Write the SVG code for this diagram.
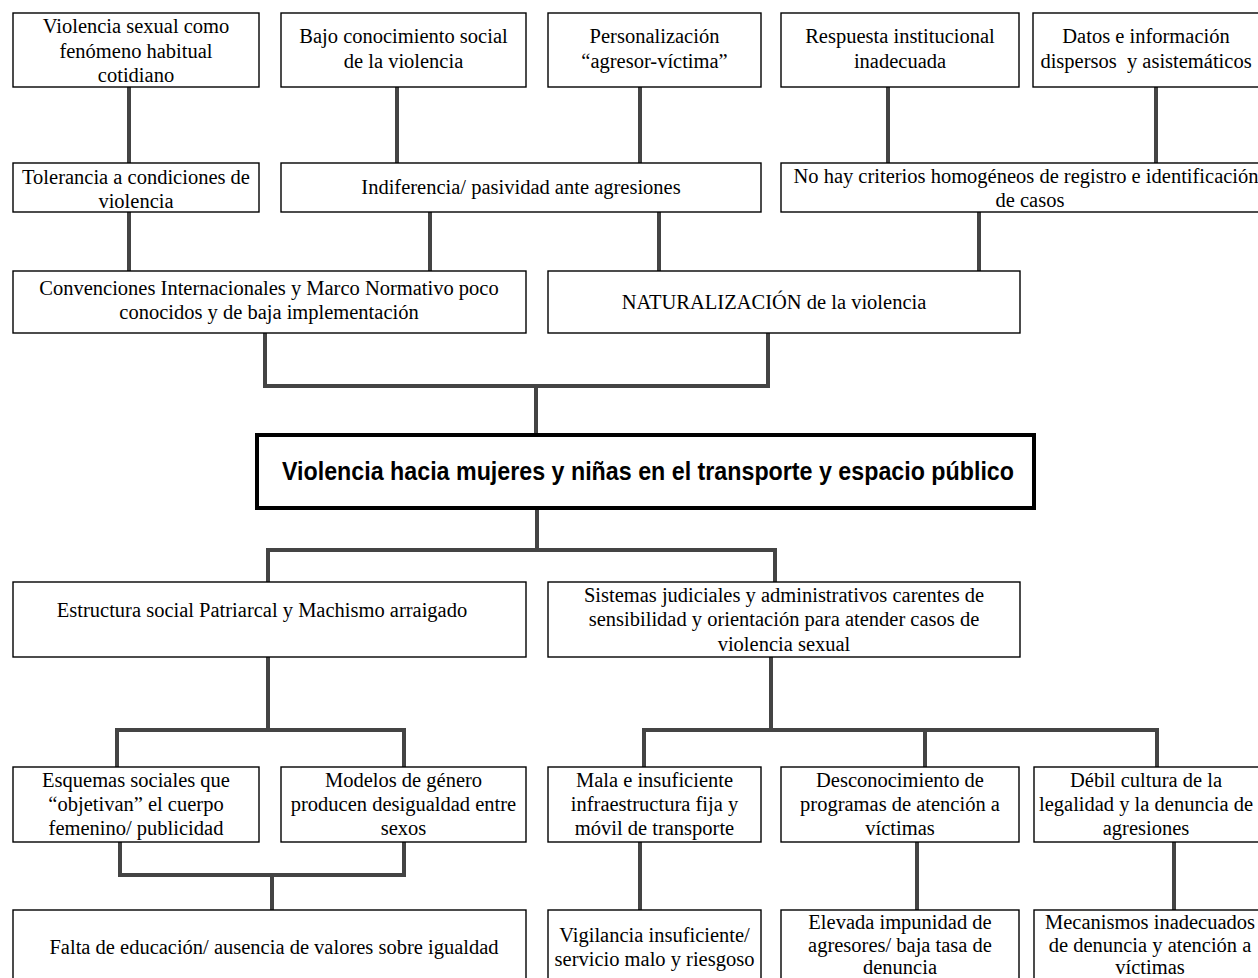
<svg xmlns="http://www.w3.org/2000/svg" width="1258" height="978" viewBox="0 0 1258 978">
<style>
.box{fill:#fff;stroke:#000;stroke-width:1.4}
.main{fill:#fff;stroke:#000;stroke-width:4}
.t{font-family:"Liberation Serif","Times New Roman",serif;font-size:20.5px;fill:#000;text-anchor:middle}
.title{font-family:"Liberation Sans",Arial,sans-serif;font-size:25px;font-weight:bold;fill:#000}
.c{fill:none;stroke:#444;stroke-width:4;stroke-linejoin:miter}
</style>
<rect width="1258" height="978" fill="#fff"/>
<g id="connectors">
<path class="c" d="M129 87V163"/>
<path class="c" d="M397 87V163"/>
<path class="c" d="M640 87V163"/>
<path class="c" d="M888 87V163"/>
<path class="c" d="M1156 87V163"/>
<path class="c" d="M129 212V271"/>
<path class="c" d="M430 212V271"/>
<path class="c" d="M659 212V271"/>
<path class="c" d="M979 212V271"/>
<path class="c" d="M265 333V386H768V333"/>
<path class="c" d="M536 386V435"/>
<path class="c" d="M537 508V550"/>
<path class="c" d="M268 582V550H775V582"/>
<path class="c" d="M268 657V730"/>
<path class="c" d="M117 767V730H404V767"/>
<path class="c" d="M771 657V730"/>
<path class="c" d="M644 767V730H1157V767"/>
<path class="c" d="M925 730V767"/>
<path class="c" d="M120 842V875H404V842"/>
<path class="c" d="M272 875V910"/>
<path class="c" d="M640 842V910"/>
<path class="c" d="M917 842V910"/>
<path class="c" d="M1174 842V910"/>
</g>
<g id="n1"><rect class="box" x="13" y="13" width="246" height="74"/>
<text class="t" x="136" y="33">Violencia sexual como</text><text class="t" x="136" y="57.5">fenómeno habitual</text><text class="t" x="136" y="82">cotidiano</text></g>
<g id="n2"><rect class="box" x="281" y="13" width="245" height="74"/>
<text class="t" x="403.5" y="43">Bajo conocimiento social</text><text class="t" x="403.5" y="67.5">de la violencia</text></g>
<g id="n3"><rect class="box" x="548" y="13" width="213" height="74"/>
<text class="t" x="654.5" y="43">Personalización</text><text class="t" x="654.5" y="67.5">“agresor-víctima”</text></g>
<g id="n4"><rect class="box" x="781" y="13" width="238" height="74"/>
<text class="t" x="900" y="43">Respuesta institucional</text><text class="t" x="900" y="67.5">inadecuada</text></g>
<g id="n5"><rect class="box" x="1033" y="13" width="228" height="74"/>
<text class="t" x="1146" y="43">Datos e información</text><text class="t" x="1146" y="67.5" style="white-space:pre">dispersos  y asistemáticos</text></g>
<g id="n6"><rect class="box" x="13" y="163" width="246" height="49"/>
<text class="t" x="136" y="184">Tolerancia a condiciones de</text><text class="t" x="136" y="208">violencia</text></g>
<g id="n7"><rect class="box" x="281" y="163" width="480" height="49"/>
<text class="t" x="521" y="194">Indiferencia/ pasividad ante agresiones</text></g>
<g id="n8"><rect class="box" x="781" y="163" width="495" height="49"/>
<text class="t" x="1026" y="183">No hay criterios homogéneos de registro e identificación</text><text class="t" x="1030" y="207">de casos</text></g>
<g id="n9"><rect class="box" x="13" y="271" width="513" height="62"/>
<text class="t" x="269" y="295">Convenciones Internacionales y Marco Normativo poco</text><text class="t" x="269" y="319">conocidos y de baja implementación</text></g>
<g id="n10"><rect class="box" x="548" y="271" width="472" height="62"/>
<text class="t" x="774" y="309">NATURALIZACIÓN de la violencia</text></g>
<g id="main"><rect class="main" x="257" y="435" width="777" height="73"/>
<text class="title" x="282" y="480" textLength="732" lengthAdjust="spacingAndGlyphs">Violencia hacia mujeres y niñas en el transporte y espacio público</text></g>
<g id="n11"><rect class="box" x="13" y="582" width="513" height="75"/>
<text class="t" x="262" y="617">Estructura social Patriarcal y Machismo arraigado</text></g>
<g id="n12"><rect class="box" x="548" y="582" width="472" height="75"/>
<text class="t" x="784" y="601.5">Sistemas judiciales y administrativos carentes de</text><text class="t" x="784" y="626">sensibilidad y orientación para atender casos de</text><text class="t" x="784" y="650.5">violencia sexual</text></g>
<g id="n13"><rect class="box" x="13" y="767" width="246" height="75"/>
<text class="t" x="136" y="787">Esquemas sociales que</text><text class="t" x="136" y="811">“objetivan” el cuerpo</text><text class="t" x="136" y="835">femenino/ publicidad</text></g>
<g id="n14"><rect class="box" x="281" y="767" width="245" height="75"/>
<text class="t" x="403.5" y="787">Modelos de género</text><text class="t" x="403.5" y="811">producen desigualdad entre</text><text class="t" x="403.5" y="835">sexos</text></g>
<g id="n15"><rect class="box" x="548" y="767" width="213" height="75"/>
<text class="t" x="654.5" y="787">Mala e insuficiente</text><text class="t" x="654.5" y="811">infraestructura fija y</text><text class="t" x="654.5" y="835">móvil de transporte</text></g>
<g id="n16"><rect class="box" x="781" y="767" width="238" height="75"/>
<text class="t" x="900" y="787">Desconocimiento de</text><text class="t" x="900" y="811">programas de atención a</text><text class="t" x="900" y="835">víctimas</text></g>
<g id="n17"><rect class="box" x="1034" y="767" width="228" height="75"/>
<text class="t" x="1146" y="787">Débil cultura de la</text><text class="t" x="1146" y="811">legalidad y la denuncia de</text><text class="t" x="1146" y="835">agresiones</text></g>
<g id="n18"><rect class="box" x="13" y="910" width="513" height="75"/>
<text class="t" x="274" y="954">Falta de educación/ ausencia de valores sobre igualdad</text></g>
<g id="n19"><rect class="box" x="548" y="910" width="213" height="75"/>
<text class="t" x="654.5" y="942">Vigilancia insuficiente/</text><text class="t" x="654.5" y="966">servicio malo y riesgoso</text></g>
<g id="n20"><rect class="box" x="781" y="910" width="238" height="75"/>
<text class="t" x="900" y="929">Elevada impunidad de</text><text class="t" x="900" y="952">agresores/ baja tasa de</text><text class="t" x="900" y="974">denuncia</text></g>
<g id="n21"><rect class="box" x="1034" y="910" width="228" height="75"/>
<text class="t" x="1150" y="929">Mecanismos inadecuados</text><text class="t" x="1150" y="952">de denuncia y atención a</text><text class="t" x="1150" y="974">víctimas</text></g>
</svg>
